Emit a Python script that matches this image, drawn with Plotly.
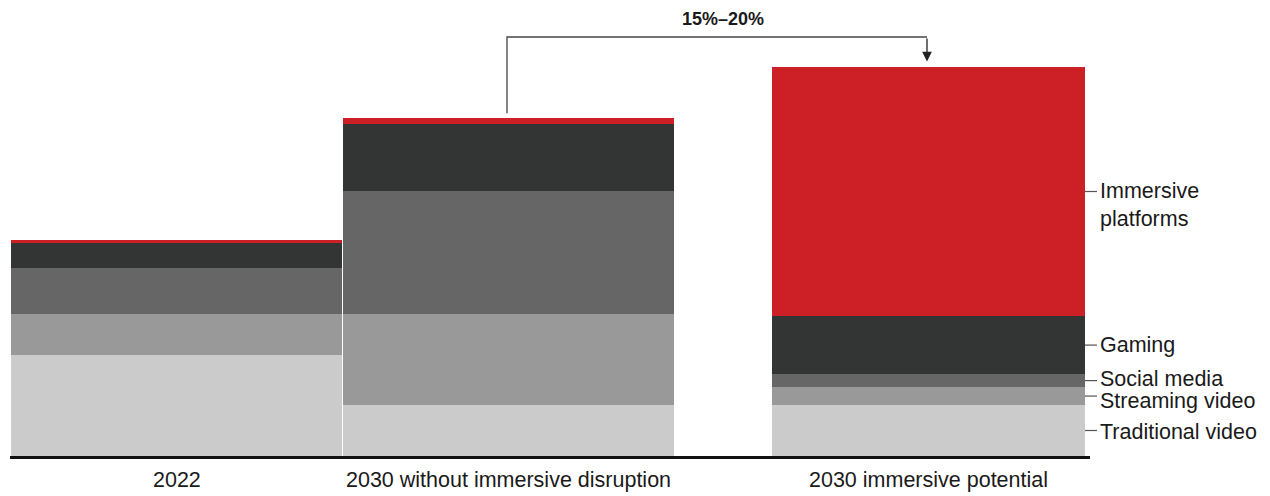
import plotly.graph_objects as go

# ---- data (index, 2022 total = 100) ----
categories = ["2022", "2030 without immersive disruption", "2030 immersive potential"]
segments = ["Traditional video", "Streaming video", "Social media", "Gaming", "Immersive platforms"]
traditional_video = [46.8, 23.6, 23.6]
streaming_video = [19.0, 42.1, 8.3]
social_media = [21.3, 56.9, 6.0]
gaming = [11.6, 31.0, 26.9]
immersive_platforms = [1.4, 2.8, 115.3]
uplift_label = "15%–20%"

# ---- layout/style ----
W, H = 1270, 496
px_per_unit = 2.16
plot_top_units = 456 / px_per_unit
plot_bottom_units = -3 / px_per_unit
bar_centers = [176.5, 508.5, 928.5]
bar_widths = [331, 331, 313]
colors = ["#cbcbcb", "#999999", "#666666", "#333434", "#cc1f26"]
FONT = "Arial, Liberation Sans, Helvetica, sans-serif"
TXT = "#1a1a1a"
LABEL_SIZE = 21.5

series = [traditional_video, streaming_video, social_media, gaming, immersive_platforms]

fig = go.Figure()
for name, vals, col in zip(segments, series, colors):
    fig.add_trace(go.Bar(
        x=bar_centers, y=vals, width=bar_widths, name=name,
        marker=dict(color=col, line=dict(width=0)),
        hoverinfo="name+y",
    ))

plot_h = 459
fig.update_layout(
    barmode="stack",
    width=W, height=H,
    margin=dict(l=0, r=0, t=0, b=H - plot_h, pad=0),
    paper_bgcolor="white", plot_bgcolor="white",
    showlegend=False,
    xaxis=dict(range=[0, W], visible=False, fixedrange=True),
    yaxis=dict(range=[plot_bottom_units, plot_top_units], visible=False, fixedrange=True),
    font=dict(family=FONT, color=TXT),
)

def px_to_y(p):
    return (456 - p) / px_per_unit

# baseline
fig.add_shape(type="line", xref="x", yref="y", x0=10, x1=1090,
              y0=px_to_y(457.5), y1=px_to_y(457.5),
              line=dict(color="#111111", width=3))

# category labels
for c, lab in zip(bar_centers, categories):
    fig.add_annotation(x=c, xref="x", y=(plot_h - 480) / plot_h, yref="paper",
                       text=lab, showarrow=False, xanchor="center", yanchor="middle",
                       font=dict(size=LABEL_SIZE, family=FONT, color=TXT))

# segment labels on the right of the last bar
last = 2
cum = 0
mids = []
for vals in series:
    mids.append(cum + vals[last] / 2)
    cum += vals[last]
text_offsets_px = [-1.5, -4.5, 1.5, 0, -13.5]  # nudges (traditional, streaming, social, gaming, immersive)
bar3_right = bar_centers[last] + bar_widths[last] / 2
for name, m, off in zip(segments, mids, text_offsets_px):
    fig.add_shape(type="line", xref="x", yref="y", x0=bar3_right, x1=bar3_right + 12,
                  y0=m, y1=m, line=dict(color="#555555", width=1.2))
    label = "Immersive<br>platforms" if name == "Immersive platforms" else name
    yy = m + off / px_per_unit
    fig.add_annotation(x=bar3_right + 13, xref="x", y=yy, yref="y", text=label,
                       showarrow=False, xanchor="left", yanchor="middle", align="left",
                       font=dict(size=LABEL_SIZE, family=FONT, color=TXT))

# bracket arrow from bar 2 top to bar 3 top
tot2 = sum(s[1] for s in series)
tot3 = sum(s[2] for s in series)
x_left = 507
x_right = 927
y_bottom_left = tot2 + 2.3
y_top = px_to_y(37)
y_tip = tot3 + 2.5
fig.add_shape(type="path", xref="x", yref="y",
              path=f"M {x_left},{y_bottom_left} L {x_left},{y_top} L {x_right},{y_top}",
              line=dict(color="#444444", width=1.3))
fig.add_annotation(x=x_right, y=y_tip, xref="x", yref="y",
                   ax=x_right, ay=y_top, axref="x", ayref="y",
                   showarrow=True, arrowhead=2, arrowsize=1.5, arrowwidth=1.3,
                   arrowcolor="#222222", text="")
fig.add_annotation(x=723, xref="x", y=px_to_y(19), yref="y", text=f"<b>{uplift_label}</b>",
                   showarrow=False, xanchor="center", yanchor="middle",
                   font=dict(size=18, family=FONT, color=TXT))

fig.write_html("out.html")
